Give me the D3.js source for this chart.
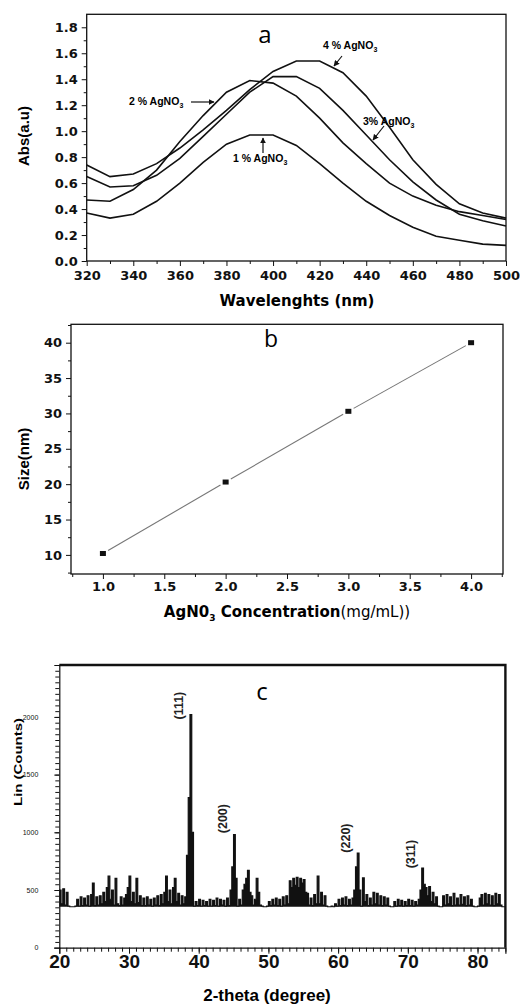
<!DOCTYPE html>
<html>
<head>
<meta charset="utf-8">
<script src="https://cdn.jsdelivr.net/npm/d3@7"></script>
<style>
  body { margin: 0; background: #fff; }
  svg { display: block; }
  .tick text { font-family: "DejaVu Sans", sans-serif; font-weight: bold; font-size: 13px; fill: #111; }
  .domain, .tick line { stroke: #111; }
  .frame { fill: none; stroke: #111; stroke-width: 1.3; }
</style>
</head>
<body>
<svg width="520" height="1007"></svg>
<script>
// panel a: UV-vis
var wavelengths = [320,330,340,350,360,370,380,390,400,410,420,430,440,450,460,470,480,490,500];
var abs1 = [0.37,0.33,0.36,0.46,0.60,0.76,0.90,0.97,0.97,0.89,0.75,0.60,0.46,0.35,0.26,0.19,0.16,0.13,0.12];
var abs2 = [0.47,0.46,0.55,0.70,0.92,1.12,1.30,1.39,1.37,1.27,1.10,0.91,0.75,0.60,0.50,0.43,0.38,0.35,0.32];
var abs3 = [0.65,0.57,0.58,0.66,0.79,0.96,1.13,1.30,1.42,1.42,1.33,1.16,0.97,0.78,0.61,0.47,0.36,0.31,0.27];
var abs4 = [0.74,0.65,0.67,0.75,0.87,1.01,1.16,1.32,1.46,1.54,1.54,1.45,1.27,1.03,0.78,0.59,0.44,0.37,0.33];
var absTicks = [0,0.2,0.4,0.6,0.8,1.0,1.2,1.4,1.6,1.8];
var wlTicks = [320,340,360,380,400,420,440,460,480,500];

// panel b: size vs concentration
var conc = [1, 2, 3, 4];
var sizes = [10.2, 20.3, 30.3, 40.0];
var concTicks = [1.0,1.5,2.0,2.5,3.0,3.5,4.0];
var sizeTicks = [10,15,20,25,30,35,40];

// panel c: XRD, one value every 0.25 degree from 20 to 84
var xrdCounts = [
  500,380,510,370, 480,360,355,355, 355,360,420,360, 440,365,430,370,
  450,360,460,560, 365,440,370,450, 380,480,400,520, 620,420,500,370,
  600,380,365,440, 370,430,460,520, 620,400,480,380, 600,390,450,365,
  430,365,440,370, 420,360,430,370, 450,365,460,380, 480,620,400,500,
  380,520,600,400, 470,370,450,380, 440,800,1300,2020, 1000,360,400,365,
  420,360,410,365, 400,360,420,360, 410,365,430,360, 420,370,410,360,
  430,365,500,700, 980,600,360,420, 370,500,550,600, 670,480,450,370,
  420,600,480,370, 360,355,355,360, 400,365,420,370, 430,365,420,360,
  440,370,450,380, 580,520,600,540, 610,520,600,560, 590,480,470,370,
  430,365,460,380, 620,380,480,370, 450,360,355,355, 360,355,380,360,
  420,365,430,370, 440,365,420,370, 430,500,700,820, 500,360,605,400,
  460,365,430,370, 480,380,470,370, 450,365,440,370, 430,360,355,355,
  400,360,420,365, 410,360,400,365, 420,365,410,360, 400,370,420,500,
  690,550,520,450, 530,400,480,380, 440,360,355,355, 450,370,460,380,
  440,365,470,370, 430,370,460,375, 440,365,450,370, 420,360,355,355,
  360,430,460,370, 470,380,460,370, 450,365,470,380, 460,370,355,355,
  355
];
var xrdAngles = d3.range(xrdCounts.length).map(function(i) { return 20 + i * 0.25; });
var xrdBaseline = 355;
var twoThetaTicks = [20,30,40,50,60,70,80];
var countTicks = [0,500,1000,1500,2000];
var peakLabels = ["(111)", "(200)", "(220)", "(311)"];
var peakAngles = [38.75, 45.0, 62.75, 72.0];
var peakCounts = [2020, 980, 820, 690];

var svg = d3.select("svg");
svg.append("rect").attr("width", 520).attr("height", 1007).attr("fill", "#fff");

var defs = svg.append("defs");
defs.append("marker")
.attr("id", "arrow")
.attr("viewBox", "0 0 10 10")
.attr("refX", 9).attr("refY", 5)
.attr("markerWidth", 5).attr("markerHeight", 5)
.attr("orient", "auto")
.append("path").attr("d", "M0,0L10,5L0,10z").attr("fill", "#111");

// ---------------- panel a ----------------
var xa = d3.scaleLinear().domain([320, 500]).range([86.7, 506]);
var ya = d3.scaleLinear().domain([0, 1.9]).range([261, 14.3]);
var ga = svg.append("g");

ga.append("g").attr("transform", "translate(0,261)")
.call(d3.axisBottom(xa).tickValues(d3.range(330, 500, 20)).tickSize(3).tickFormat(""))
.call(function(g) { g.select(".domain").remove(); });
ga.append("g").attr("transform", "translate(0,261)")
.call(d3.axisBottom(xa).tickValues(wlTicks).tickSize(5).tickPadding(5).tickFormat(d3.format("d")))
.call(function(g) { g.select(".domain").remove(); });
ga.append("g").attr("transform", "translate(86.7,0)")
.call(d3.axisLeft(ya).tickValues(d3.range(0.1, 1.9, 0.2)).tickSize(3).tickFormat(""))
.call(function(g) { g.select(".domain").remove(); });
ga.append("g").attr("transform", "translate(86.7,0)")
.call(d3.axisLeft(ya).tickValues(absTicks).tickSize(5).tickPadding(4).tickFormat(d3.format(".1f")))
.call(function(g) { g.select(".domain").remove(); });

ga.append("rect").attr("class", "frame")
.attr("x", 86.7).attr("y", 14.3).attr("width", 506 - 86.7).attr("height", 261 - 14.3);

var lineA = d3.line()
.x(function(d, i) { return xa(wavelengths[i]); })
.y(function(d) { return ya(d); });

[abs1, abs2, abs3, abs4].forEach(function(s) {
  ga.append("path").attr("d", lineA(s))
  .attr("fill", "none").attr("stroke", "#111").attr("stroke-width", 1.6);
});

ga.append("text").attr("x", 265).attr("y", 43).attr("text-anchor", "middle")
.style("font-family", "Open Sans").style("font-size", "24px").text("a");

ga.append("text").attr("x", 297).attr("y", 306).attr("text-anchor", "middle")
.style("font-family", "DejaVu Sans").style("font-weight", "bold").style("font-size", "15px")
.text("Wavelenghts (nm)");
ga.append("text").attr("transform", "translate(29,136) rotate(-90)").attr("text-anchor", "middle")
.style("font-family", "Liberation Sans").style("font-weight", "bold").style("font-size", "15px")
.text("Abs(a.u)");

// curve labels
var curveLabels = [
  { pre: "4 % AgNO", x: 323, y: 49, a: [342, 56, 334, 66] },
  { pre: "2 % AgNO", x: 129, y: 105, a: [191, 102, 214, 102] },
  { pre: "3% AgNO", x: 363, y: 125, a: [384, 126, 373, 140] },
  { pre: "1 % AgNO", x: 233, y: 162, a: [263, 153, 263, 138] }
];
curveLabels.forEach(function(l) {
  var t = ga.append("text").attr("x", l.x).attr("y", l.y)
  .style("font-family", "Liberation Sans").style("font-weight", "bold").style("font-size", "10.5px");
  t.append("tspan").text(l.pre);
  t.append("tspan").attr("dy", 2.5).style("font-size", "7px").text("3");
  ga.append("line").attr("x1", l.a[0]).attr("y1", l.a[1]).attr("x2", l.a[2]).attr("y2", l.a[3])
  .attr("stroke", "#111").attr("stroke-width", 1.2).attr("marker-end", "url(#arrow)");
});

// ---------------- panel b ----------------
var xb = d3.scaleLinear().domain([0.74, 4.26]).range([71, 503]);
var yb = d3.scaleLinear().domain([7.3, 42.6]).range([574, 324.3]);
var gb = svg.append("g");

gb.append("g").attr("transform", "translate(0,574)")
.call(d3.axisBottom(xb).tickValues(d3.range(0.75, 4.26, 0.5)).tickSize(3).tickFormat(""))
.call(function(g) { g.select(".domain").remove(); });
gb.append("g").attr("transform", "translate(0,574)")
.call(d3.axisBottom(xb).tickValues(concTicks).tickSize(5).tickPadding(3).tickFormat(d3.format(".1f")))
.call(function(g) { g.select(".domain").remove(); });
gb.append("g").attr("transform", "translate(71,0)")
.call(d3.axisLeft(yb).tickValues(d3.range(7.5, 42.6, 5)).tickSize(3).tickFormat(""))
.call(function(g) { g.select(".domain").remove(); });
gb.append("g").attr("transform", "translate(71,0)")
.call(d3.axisLeft(yb).tickValues(sizeTicks).tickSize(5).tickPadding(4).tickFormat(d3.format("d")))
.call(function(g) { g.select(".domain").remove(); });

gb.append("rect").attr("class", "frame")
.attr("x", 71).attr("y", 324.3).attr("width", 503 - 71).attr("height", 574 - 324.3);

// connecting line with small gaps at the markers
for (var i = 0; i < conc.length - 1; i++) {
  var x1 = xb(conc[i]), y1 = yb(sizes[i]), x2 = xb(conc[i + 1]), y2 = yb(sizes[i + 1]);
  var len = Math.hypot(x2 - x1, y2 - y1), gap = 6;
  var ux = (x2 - x1) / len, uy = (y2 - y1) / len;
  gb.append("line")
  .attr("x1", x1 + ux * gap).attr("y1", y1 + uy * gap)
  .attr("x2", x2 - ux * gap).attr("y2", y2 - uy * gap)
  .attr("stroke", "#777").attr("stroke-width", 1.1);
}
gb.selectAll("rect.pt").data(conc).enter().append("rect").attr("class", "pt")
.attr("x", function(d) { return xb(d) - 3; })
.attr("y", function(d, i) { return yb(sizes[i]) - 2.5; })
.attr("width", 6).attr("height", 5).attr("fill", "#111");

gb.append("text").attr("x", 271).attr("y", 347).attr("text-anchor", "middle")
.style("font-family", "Open Sans").style("font-size", "23px").text("b");

var tb = gb.append("text").attr("x", 287).attr("y", 617).attr("text-anchor", "middle")
.style("font-family", "DejaVu Sans").style("font-size", "15px");
tb.append("tspan").style("font-weight", "bold").text("AgN0");
tb.append("tspan").attr("dy", 4).style("font-weight", "bold").style("font-size", "9px").text("3");
tb.append("tspan").attr("dy", -4).style("font-weight", "bold").text(" Concentration");
tb.append("tspan").text("(mg/mL))");

gb.append("text").attr("transform", "translate(29,459) rotate(-90)").attr("text-anchor", "middle")
.style("font-family", "Liberation Sans").style("font-weight", "bold").style("font-size", "15px")
.text("Size(nm)");

// ---------------- panel c ----------------
var xc = d3.scaleLinear().domain([20, 84]).range([59.3, 505.4]);
var yc = d3.scaleLinear().domain([0, 2450]).range([947.7, 665]);
var gc = svg.append("g");

gc.append("g").attr("transform", "translate(0,947.7)")
.call(d3.axisBottom(xc).tickValues(d3.range(21, 85, 1)).tickSize(4).tickFormat(""))
.call(function(g) { g.select(".domain").remove(); g.selectAll("line").attr("stroke", "#333"); });
var xcAxis = gc.append("g").attr("transform", "translate(0,947.7)")
.call(d3.axisBottom(xc).tickValues(twoThetaTicks).tickSize(6).tickPadding(1).tickFormat(d3.format("d")));
xcAxis.selectAll("text").style("font-family", "Liberation Sans").style("font-size", "19px");
xcAxis.select(".domain").attr("stroke-width", 1.2);

gc.append("g").attr("transform", "translate(59.3,0)")
.call(d3.axisLeft(yc).tickValues(d3.range(50, 2450, 50)).tickSize(4).tickFormat(""))
.call(function(g) { g.select(".domain").remove(); g.selectAll("line").attr("stroke", "#444"); });
var ycAxis = gc.append("g").attr("transform", "translate(59.3,0)")
.call(d3.axisLeft(yc).tickValues(countTicks).tickSize(5).tickPadding(16).tickFormat(d3.format("d")));
ycAxis.selectAll("text").style("font-family", "Liberation Sans").style("font-weight", "normal")
.style("font-size", "7px").attr("fill", "#777");
ycAxis.select(".domain").attr("stroke-width", 1.2);

// thick top and right borders
gc.append("path").attr("d", "M59.3,665H505.4V947.7")
.attr("fill", "none").attr("stroke", "#111").attr("stroke-width", 2.4);

// dense noise reads as solid black between baseline and trace
var areaC = d3.area().curve(d3.curveStepAfter)
.x(function(d, i) { return xc(xrdAngles[i]); })
.y0(yc(xrdBaseline))
.y1(function(d) { return yc(d); });
gc.append("path").attr("d", areaC(xrdCounts)).attr("fill", "#111");

var lineC = d3.line().curve(d3.curveStepAfter)
.x(function(d, i) { return xc(xrdAngles[i]); })
.y(function(d) { return yc(d); });
gc.append("path").attr("d", lineC(xrdCounts))
.attr("fill", "none").attr("stroke", "#111").attr("stroke-width", 1.2);

// labels sit up and to the left of each peak top
var labelLift = [9, 16, 15, 14];
gc.selectAll("text.peak").data(peakLabels).enter().append("text").attr("class", "peak")
.attr("transform", function(d, i) {
  return "translate(" + (xc(peakAngles[i]) - 7) + "," + (yc(peakCounts[i]) - labelLift[i]) + ") rotate(-90)";
})
.attr("text-anchor", "middle")
.style("font-family", "Liberation Sans").style("font-weight", "bold").style("font-size", "12.5px")
.attr("fill", "#222")
.text(function(d) { return d; });

gc.append("text").attr("x", 262).attr("y", 700).attr("text-anchor", "middle")
.style("font-family", "Open Sans").style("font-size", "24px").text("c");

gc.append("text").attr("x", 267).attr("y", 1001).attr("text-anchor", "middle")
.style("font-family", "Liberation Sans").style("font-weight", "bold").style("font-size", "17px")
.text("2-theta (degree)");
gc.append("text").attr("transform", "translate(22,762) rotate(-90)").attr("text-anchor", "middle")
.attr("textLength", 88).attr("lengthAdjust", "spacingAndGlyphs")
.style("font-family", "Liberation Sans").style("font-weight", "bold").style("font-size", "11px")
.text("Lin (Counts)");
</script>
</body>
</html>
